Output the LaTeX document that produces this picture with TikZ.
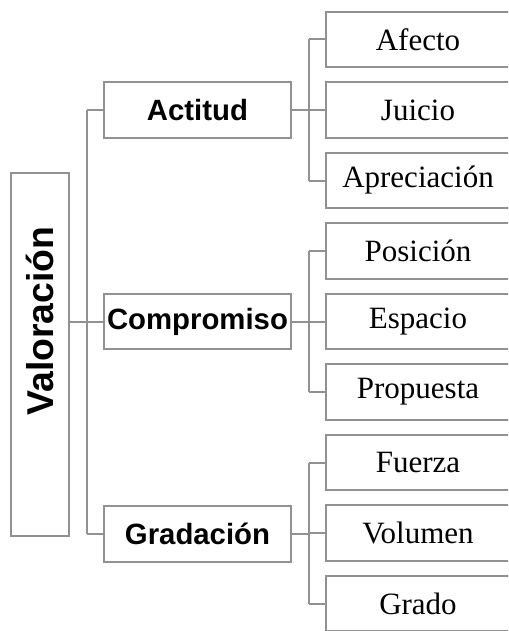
\documentclass[tikz,border=0pt]{standalone}
\usepackage{fontspec}
\setmainfont{Liberation Serif}
\setsansfont{Liberation Sans}
\definecolor{linegray}{RGB}{145,145,145}
\begin{document}
\begin{tikzpicture}[x=0.75pt,y=-0.75pt,
  box/.style={draw=linegray,line width=1.5pt,fill=white,inner sep=0pt},
  midbox/.style={box,minimum width=140.25pt,minimum height=41.5pt,font=\fontsize{22}{24}\selectfont\sffamily\bfseries},
  leafbox/.style={box,minimum width=138pt,minimum height=41.5pt,font=\fontsize{23.25}{26}\selectfont},
  valbox/.style={box,minimum width=43.5pt,minimum height=272.25pt},
  conn/.style={draw=linegray,line width=1.5pt}]
\useasboundingbox (0,0) rectangle (508,631);
\clip (0,0) rectangle (508,631);
% top level
\node[valbox] (val) at (40,354.5) {};
\node[rotate=90,font=\fontsize{28}{30}\selectfont\sffamily\bfseries] (valtext) at (40,321) {Valoración};
% mid level
\node[midbox] (act) at (197.5,110) {Actitud};
\node[midbox] (com) at (197.5,321.5) {Compromiso};
\node[midbox] (gra) at (197.5,534) {Gradación};
% leaves
\node[leafbox] (afe) at (418,39.5) {Afecto};
\node[leafbox] (jui) at (418,110) {Juicio};
\node[leafbox] (apr) at (418,180.5) {Apreciación};
\node[leafbox] (pos) at (418,251) {Posición};
\node[leafbox] (esp) at (418,321.5) {Espacio};
\node[leafbox] (pro) at (418,392) {Propuesta};
\node[leafbox] (fue) at (418,462.5) {Fuerza};
\node[leafbox] (vol) at (418,533) {Volumen};
\node[leafbox] (grd) at (418,603.5) {Grado};
% connectors from Valoracion
\coordinate (t1) at (87,110);
\coordinate (t3) at (87,534);
\draw[conn] (val.east |- com.west) -- (com.west);
\draw[conn] (t1) -- (t3);
\draw[conn] (t1) -- (act.west);
\draw[conn] (t3) -- (gra.west);
% group connectors
\foreach \m/\a/\b/\c in {act/afe/jui/apr, com/pos/esp/pro, gra/fue/vol/grd}{
  \draw[conn] (\m.east) -- (309,0 |- \m.east);
  \draw[conn] (309,0 |- \a.west) -- (309,0 |- \c.west);
  \draw[conn] (309,0 |- \a.west) -- (\a.west);
  \draw[conn] (309,0 |- \b.west) -- (\b.west);
  \draw[conn] (309,0 |- \c.west) -- (\c.west);
}
\end{tikzpicture}
\end{document}
